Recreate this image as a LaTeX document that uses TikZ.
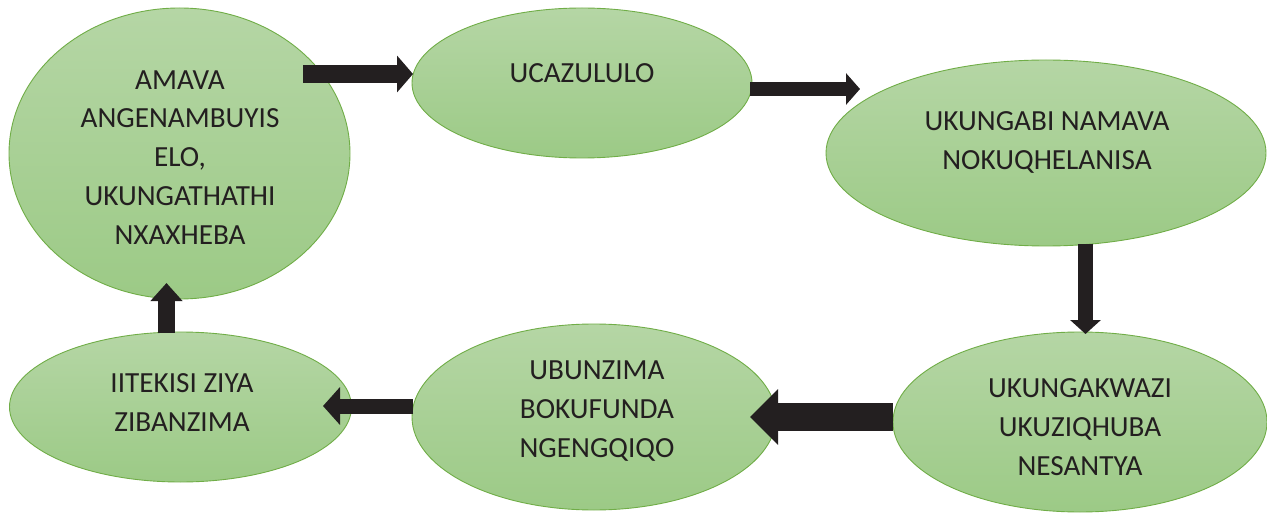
\documentclass[tikz,border=0pt]{standalone}
\usepackage{fontspec}
\setmainfont{Carlito}
\usetikzlibrary{shapes.geometric,arrows.meta}
\definecolor{ellTop}{HTML}{B5D6A5}
\definecolor{ellBot}{HTML}{9CCA86}
\definecolor{ellLine}{HTML}{70AD47}
\definecolor{arrowFill}{HTML}{231F20}
\definecolor{txtCol}{HTML}{231F20}
\tikzset{
  bubble/.style={ellipse, draw=ellLine, line width=0.9pt, top color=ellTop, bottom color=ellBot, inner sep=0pt},
  label text/.style={align=center, text=txtCol, inner sep=0pt, font={\fontsize{29.2}{38.8}\selectfont}},
  blockarrow/.style n args={3}{draw=arrowFill, line width=#1, line cap=butt,
     -{Triangle[length=#3, width=#2]}},
}
\begin{document}
\begin{tikzpicture}[x=1pt,y=-1pt]
\useasboundingbox (0,0) rectangle (1267,513);
% ellipses
\node[bubble, minimum width=341pt, minimum height=291pt] (e1) at (179.5,153.5) {};
\node[bubble, minimum width=340pt, minimum height=150pt] (e2) at (582,83) {};
\node[bubble, minimum width=440pt, minimum height=186pt] (e3) at (1046,153) {};
\node[bubble, minimum width=374pt, minimum height=180pt] (e4) at (1080,422) {};
\node[bubble, minimum width=364pt, minimum height=186pt] (e5) at (594,417) {};
\node[bubble, minimum width=342pt, minimum height=150pt] (e6) at (180.5,407) {};
% texts
\node[label text] (t1) at (180,159) {AMAVA\strut\\ANGENAMBUYIS\strut\\ELO,\strut\\UKUNGATHATHI\strut\\NXAXHEBA\strut};
\node[label text] (t2) at (582,75) {UCAZULULO\strut};
\node[label text] (t3) at (1047,142) {UKUNGABI NAMAVA\strut\\NOKUQHELANISA\strut};
\node[label text] (t4) at (1080,429) {UKUNGAKWAZI\strut\\UKUZIQHUBA\strut\\NESANTYA\strut};
\node[label text] (t5) at (597,411) {UBUNZIMA\strut\\BOKUFUNDA\strut\\NGENGQIQO\strut};
\node[label text] (t6) at (182,404) {IITEKISI ZIYA\strut\\ZIBANZIMA\strut};
% arrow end points
\coordinate (a1s) at (303,74);   \coordinate (a1e) at (413,74);
\coordinate (a2s) at (750,89);   \coordinate (a2e) at (860,89);
\coordinate (a3s) at (1085.5,244); \coordinate (a3e) at (1085.5,334);
\coordinate (a4s) at (893,417);  \coordinate (a4e) at (750,417);
\coordinate (a5s) at (413,406);  \coordinate (a5e) at (323,406);
\coordinate (a6s) at (166.5,333); \coordinate (a6e) at (166.5,283);
% arrows
\draw[blockarrow={18pt}{36pt}{16pt}] (a1s) -- (a1e);
\draw[blockarrow={14pt}{31pt}{14pt}] (a2s) -- (a2e);
\draw[blockarrow={15pt}{30pt}{14pt}] (a3s) -- (a3e);
\draw[blockarrow={28pt}{54pt}{28pt}] (a4s) -- (a4e);
\draw[blockarrow={15pt}{37pt}{17pt}] (a5s) -- (a5e);
\draw[blockarrow={17pt}{31pt}{18pt}] (a6s) -- (a6e);
\end{tikzpicture}
\end{document}
